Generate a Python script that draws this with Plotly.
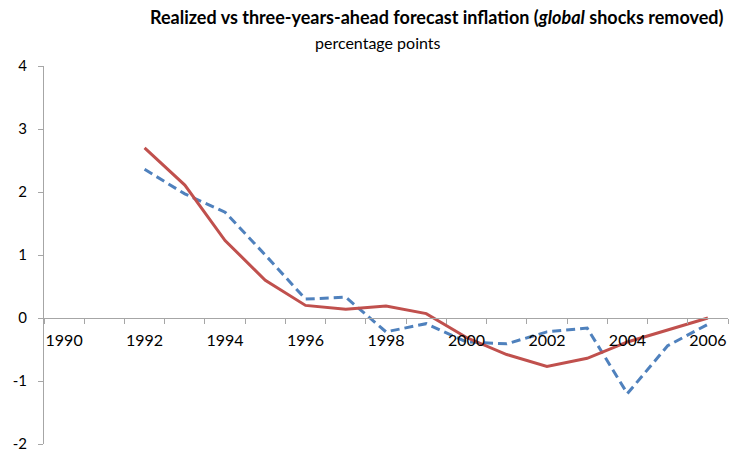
import plotly.graph_objects as go

years = list(range(1990, 2007))
realized = [None, None, 2.70, 2.11, 1.23, 0.60, 0.20, 0.14, 0.19, 0.07, -0.31, -0.58, -0.77, -0.64, -0.38, -0.19, 0.00]
forecast = [None, None, 2.36, 1.97, 1.68, 1.00, 0.30, 0.33, -0.22, -0.09, -0.38, -0.41, -0.22, -0.16, -1.20, -0.44, -0.10]
label_years = [1990, 1992, 1994, 1996, 1998, 2000, 2002, 2004, 2006]
y_ticks = [-2, -1, 0, 1, 2, 3, 4]

FONT = "Lato"
AXIS_COLOR = "#A6A6A6"

fig = go.Figure()
fig.add_trace(go.Scatter(x=years, y=forecast, mode="lines",
                         line=dict(color="#4F81BD", width=3, dash="9px,5px"),
                         name="forecast", showlegend=False))
fig.add_trace(go.Scatter(x=years, y=realized, mode="lines",
                         line=dict(color="#C0504D", width=3),
                         name="realized", showlegend=False))

boundaries = [y - 0.5 for y in years] + [years[-1] + 0.5]

TOP, BOTTOM = 66, 10
ph = 454 - TOP - BOTTOM
pbottom = 454 - BOTTOM

fig.update_layout(
    width=732, height=454,
    margin=dict(l=44, r=4, t=TOP, b=BOTTOM),
    plot_bgcolor="white", paper_bgcolor="white",
    font=dict(family=FONT, size=16, color="#000000"),
    xaxis=dict(
        range=[1989.5, 2006.5],
        tickmode="array", tickvals=label_years, ticktext=[str(v) for v in label_years],
        ticks="", showgrid=False, zeroline=False,
        showline=True, linecolor=AXIS_COLOR, linewidth=1,
        anchor="free", position=1/3,
        minor=dict(tickmode="array", tickvals=boundaries, ticks="outside",
                   ticklen=5, tickcolor=AXIS_COLOR, showgrid=False),
        ticklabelstandoff=8,
        automargin=False,
        tickfont=dict(family=FONT, size=16),
    ),
    yaxis=dict(
        range=[-2, 4],
        tickmode="array", tickvals=y_ticks, ticktext=[str(v) for v in y_ticks],
        ticks="outside", ticklen=5, tickcolor=AXIS_COLOR,
        showgrid=False, zeroline=False,
        showline=True, linecolor=AXIS_COLOR, linewidth=1,
        ticklabelstandoff=8,
        ticklabeloverflow="allow",
        automargin=False,
        tickfont=dict(family=FONT, size=15),
    ),
    annotations=[
        dict(text="<b>Realized vs three-years-ahead forecast inflation (<i>global</i> shocks removed)</b>",
             xref="paper", yref="paper", x=(436 - 44) / 684, y=(pbottom - 17) / ph,
             xanchor="center", yanchor="middle", showarrow=False,
             font=dict(family=FONT, size=18, color="#000000")),
        dict(text="percentage points",
             xref="paper", yref="paper", x=(378 - 44) / 684, y=(pbottom - 42) / ph,
             xanchor="center", yanchor="middle", showarrow=False,
             font=dict(family=FONT, size=16, color="#000000")),
    ],
)

fig.write_html("out.html")
